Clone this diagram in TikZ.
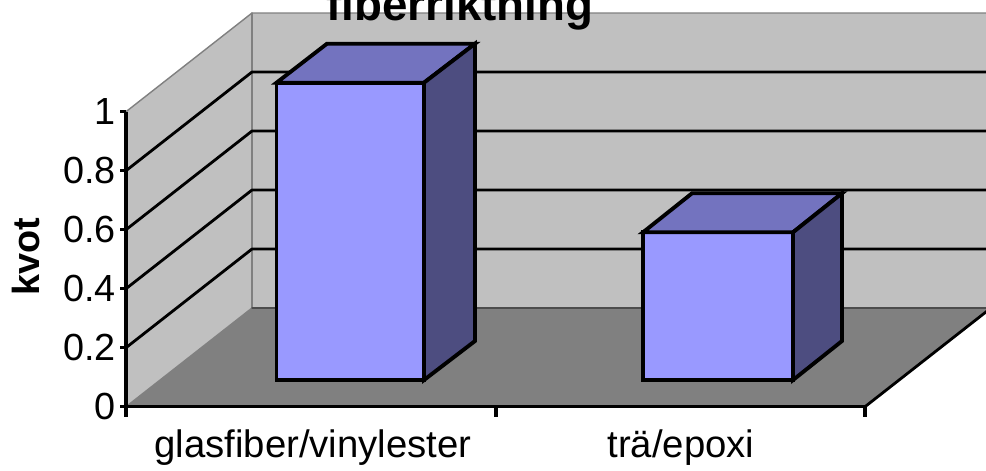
\documentclass[tikz,border=0pt]{standalone}
\usepackage{fontspec}
\setmainfont{Liberation Sans}
\usetikzlibrary{calc}
\definecolor{wallgray}{HTML}{C0C0C0}
\definecolor{floorgray}{HTML}{808080}
\definecolor{barfront}{HTML}{9999FF}
\definecolor{bartop}{HTML}{7373BF}
\definecolor{barside}{HTML}{4D4D80}
\tikzset{
  ticklabel/.style={anchor=east,inner sep=1pt,font=\fontsize{21.5}{24}\selectfont},
  catlabel/.style={anchor=base,inner sep=0pt,font=\fontsize{21.8}{24}\selectfont},
  barline/.style={line width=2.2pt,draw=black,line join=miter},
  gridline/.style={line width=1.6pt,black},
  edgeline/.style={line width=0.8pt,floorgray}
}

\begin{document}
\begin{tikzpicture}[line cap=round,line join=round,x=0.02cm,y=-0.02cm]
            \useasboundingbox (0,0) rectangle (986,470);
            \clip (0,0) rectangle (986,470);
            % floor and walls
            \fill[floorgray] (126,406.7) -- (865,406.7) -- (991,308) -- (252,308) -- cycle;
            \fill[wallgray] (126,406.7) -- (126,111.7) -- (252,13) -- (252,308) -- cycle;
            \fill[wallgray] (252,13) rectangle (991,308);
            \draw[edgeline] (126,111.7) -- (252,13) -- (991,13);
            \draw[edgeline] (252,13) -- (252,308);
            \draw[edgeline] (126,406.7) -- (252,308);
            \draw[line width=0.7pt,black!70] (252,308) -- (991,308);
            \draw[line width=1.6pt] (865,406.7) -- (991,308);
            % gridlines
            \draw[gridline] (126,347.7) -- (252,249) -- (991,249);
            \draw[gridline] (126,288.7) -- (252,190) -- (991,190);
            \draw[gridline] (126,229.7) -- (252,131) -- (991,131);
            \draw[gridline] (126,170.7) -- (252,72) -- (991,72);
            % axes
            \draw[line width=2pt,line cap=butt] (126,111.7) -- (126,406.7) -- (865,406.7);
            \draw[line width=1.8pt,line cap=butt] (120,111.7) -- (126,111.7) (120,170.7) -- (126,170.7)
                (120,229.7) -- (126,229.7) (120,288.7) -- (126,288.7) (120,347.7) -- (126,347.7)
                (120,406.7) -- (126,406.7);
            \draw[line width=1.8pt,line cap=butt] (126,406.7) -- (126,417) (496,406.7) -- (496,417) (865,406.7) -- (865,417);
            % bar glasfiber/vinylester
            \draw[barline,fill=barfront] (276.5,380) rectangle (424,82.7);
            \draw[barline,fill=bartop] (276.5,82.7) -- (327,43.7) -- (475,43.7) -- (424,82.7) -- cycle;
            \draw[barline,fill=barside] (424,82.7) -- (475,43.7) -- (475,341) -- (424,380) -- cycle;
            % bar trä/epoxi
            \draw[barline,fill=barfront] (643,380) rectangle (793,232.3);
            \draw[barline,fill=bartop] (643,232.3) -- (692,193.3) -- (842,193.3) -- (793,232.3) -- cycle;
            \draw[barline,fill=barside] (793,232.3) -- (842,193.3) -- (842,341) -- (793,380) -- cycle;
            % labels
            \node[ticklabel] (t0) at (118,406.7) {0};
            \node[ticklabel] (t2) at (118,347.7) {0.2};
            \node[ticklabel] (t4) at (118,288.7) {0.4};
            \node[ticklabel] (t6) at (118,229.7) {0.6};
            \node[ticklabel] (t8) at (118,170.7) {0.8};
            \node[ticklabel] (t10) at (118,111.7) {1};
            \node[catlabel] (glas) at (313,457) {glasfiber/vinylester};
            \node[catlabel] (tra) at (681,457) {trä/epoxi};
            \node[rotate=90,inner sep=0pt,font=\fontsize{21.5}{24}\selectfont\bfseries] (kvot) at (26,257) {kvot};
            \node[anchor=base,inner sep=0pt,font=\fontsize{26}{30}\selectfont\bfseries] (title) at (460,20.7) {fiberriktning};
\end{tikzpicture}
\end{document}
